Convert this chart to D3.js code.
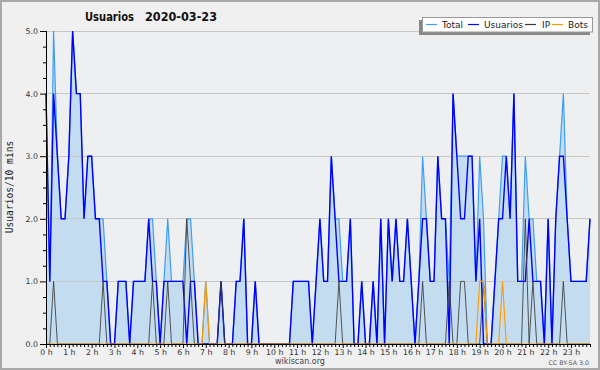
<!DOCTYPE html>
<html><head><meta charset="utf-8">
<script src="https://cdn.jsdelivr.net/npm/d3@7"></script>
<style>body{margin:0;background:#f0f0f0}svg{display:block}</style>
</head><body><svg id="c" width="600" height="370"></svg>
<script>
// 10-minute slots over the day (144)
const hourLabels = d3.range(24).map(h => h + " h");
const yTicks = [0, 1, 2, 3, 4, 5];
const total = [4,1,5,3,2,2,3,5,4,4,2,3,3,2,2,2,1,0,0,1,1,1,0,1,1,1,1,2,2,1,0,1,2,1,1,1,1,2,2,1,
  0,0,1,0,0,0,1,0,0,0,1,1,2,0,0,1,0,0,0,0,0,0,0,0,0,1,1,1,1,1,0,1,2,1,1,3,2,2,1,1,
  2,0,0,1,0,0,1,0,2,0,2,1,2,1,1,2,1,0,1,3,2,1,1,3,2,2,1,4,3,3,3,3,3,1,3,2,0,0,1,2,
  3,3,2,4,1,1,3,2,2,1,1,0,2,0,2,3,4,2,1,1,1,1,1,2];
const usuarios = [4,1,4,3,2,2,3,5,4,4,2,3,3,2,2,1,1,0,0,1,1,1,0,1,1,1,1,2,1,1,0,1,1,1,1,1,1,0,1,1,
  0,0,0,0,0,0,1,0,0,0,1,1,2,0,0,1,0,0,0,0,0,0,0,0,0,1,1,1,1,1,0,1,2,1,1,3,2,1,1,1,
  2,0,0,1,0,0,1,0,2,0,2,1,2,1,1,2,1,0,1,2,2,1,1,3,2,2,0,4,3,2,2,3,3,1,2,0,0,0,1,2,
  2,3,2,4,1,1,1,2,1,1,1,0,2,0,2,3,3,2,1,1,1,1,1,2];
const ip = [0,0,1,0,0,0,0,0,0,0,0,0,0,0,0,1,0,0,0,0,0,0,0,0,0,0,0,0,1,0,0,0,1,0,0,0,0,2,1,0,
  0,0,0,0,0,0,1,0,0,0,0,0,0,0,0,0,0,0,0,0,0,0,0,0,0,0,0,0,0,0,0,0,0,0,0,0,0,1,0,0,
  0,0,0,0,0,0,0,0,0,0,0,0,0,0,0,0,0,0,0,1,0,0,0,0,0,0,1,0,0,1,1,0,0,0,0,1,0,0,0,0,
  0,0,0,0,0,0,2,0,1,0,0,0,0,0,0,0,1,0,0,0,0,0,0,0];
const bots = [0,0,0,0,0,0,0,0,0,0,0,0,0,0,0,0,0,0,0,0,0,0,0,0,0,0,0,0,0,0,0,0,0,0,0,0,0,0,0,0,
  0,0,1,0,0,0,0,0,0,0,0,0,0,0,0,0,0,0,0,0,0,0,0,0,0,0,0,0,0,0,0,0,0,0,0,0,0,0,0,0,
  0,0,0,0,0,0,0,0,0,0,0,0,0,0,0,0,0,0,0,0,0,0,0,0,0,0,0,0,0,0,0,0,0,0,1,1,0,0,0,0,
  1,0,0,0,0,0,0,0,0,0,0,0,0,0,0,0,0,0,0,0,0,0,0,0];
const seriesNames = ["Total", "Usuarios", "IP", "Bots"];

const svg = d3.select("#c");
const L = 46, R = 590, T = 31, B = 344;
const x = d3.scaleLinear().domain([0, 143]).range([L, R]);
const y = d3.scaleLinear().domain([0, 5]).range([B, T]);
const F = "DejaVu Sans, sans-serif";

svg.append("rect").attr("x",1).attr("y",1).attr("width",598).attr("height",368)
  .attr("fill","#f0f0f0").attr("stroke","#a8a8a8").attr("stroke-width",2);
svg.append("rect").attr("x",L).attr("y",T).attr("width",R-L).attr("height",B-T).attr("fill","#eeeff1");

const idx = d3.range(total.length);
svg.append("path").datum(idx)
  .attr("d", d3.area().x(i => x(i)).y0(B).y1(i => y(total[i])))
  .attr("fill", "#c4dcf0");

// grid
svg.append("g").selectAll("line").data(yTicks.slice(1)).join("line")
  .attr("x1", L).attr("x2", R).attr("y1", d => y(d)).attr("y2", d => y(d))
  .attr("stroke", "#c8c8c8").attr("stroke-width", 1).attr("shape-rendering","crispEdges");

const line = arr => d3.line().x(i => x(i)).y(i => y(arr[i]));
svg.append("path").datum(idx).attr("d", line(total)).attr("fill","none").attr("stroke","#3e9ef2").attr("stroke-width",1.2);
svg.append("path").datum(idx).attr("d", line(usuarios)).attr("fill","none").attr("stroke","#0000ff").attr("stroke-width",1.4);
svg.append("path").datum(idx).attr("d", line(ip)).attr("fill","none").attr("stroke","#3a3a3a").attr("stroke-opacity",0.85).attr("stroke-width",1);
svg.append("path").datum(idx).attr("d", line(bots)).attr("fill","none").attr("stroke","#ff9900").attr("stroke-width",1.1);

// y axis
const yAxis = d3.axisLeft(y).tickValues(yTicks).tickFormat(d3.format(".1f")).tickSize(6).tickPadding(2);
const gy = svg.append("g").attr("transform", `translate(${L},0)`).call(yAxis);
gy.select(".domain").remove();
gy.selectAll("text").attr("font-family", F).attr("font-size", 7.8).attr("fill", "#333");
gy.selectAll("line").attr("stroke","#000");
const yMinor = d3.axisLeft(y).tickValues(d3.range(0, 5.01, 0.25).filter(v => v % 1 !== 0)).tickSize(3).tickFormat("");
const gym = svg.append("g").attr("transform", `translate(${L},0)`).call(yMinor);
gym.select(".domain").remove();
gym.selectAll("line").attr("stroke","#000");
svg.append("line").attr("x1",L+0.5).attr("x2",L+0.5).attr("y1",T).attr("y2",B).attr("stroke","#000");

// x axis
const xAxis = d3.axisBottom(x).tickValues(d3.range(0, 144, 6)).tickFormat((d, i) => hourLabels[i]).tickSize(4).tickPadding(1);
const gx = svg.append("g").attr("transform", `translate(0,${B})`).call(xAxis);
gx.select(".domain").remove();
gx.selectAll("text").attr("font-family", F).attr("font-size", 7.8).attr("fill", "#333");
gx.selectAll("line").attr("stroke","#000");
const xMinor = d3.axisBottom(x).tickValues(d3.range(0, 144).filter(v => v % 6 !== 0)).tickSize(3).tickFormat("");
const gxm = svg.append("g").attr("transform", `translate(0,${B})`).call(xMinor);
gxm.select(".domain").remove();
gxm.selectAll("line").attr("stroke","#000");
svg.append("line").attr("x1",L).attr("x2",R).attr("y1",B+0.5).attr("y2",B+0.5).attr("stroke","#000");

// titles
svg.append("text").attr("x", 85).attr("y", 21).attr("font-family", F).attr("font-weight","bold")
  .attr("font-size", 12).attr("fill","#111").attr("textLength", 49).attr("lengthAdjust","spacingAndGlyphs").text("Usuarios");
svg.append("text").attr("x", 145).attr("y", 21).attr("font-family", F).attr("font-weight","bold")
  .attr("font-size", 12).attr("fill","#111").attr("textLength", 72).attr("lengthAdjust","spacingAndGlyphs").text("2020-03-23");
svg.append("text").attr("transform","translate(13,187) rotate(-90)").attr("text-anchor","middle")
  .attr("font-family","DejaVu Sans Mono, monospace").attr("font-size",9.6).attr("fill","#222").text("Usuarios/10 mins");
svg.append("text").attr("x",300).attr("y",364).attr("text-anchor","middle").attr("font-family",F)
  .attr("font-size",8).attr("fill","#444").text("wikiscan.org");
svg.append("text").attr("x",589).attr("y",365).attr("text-anchor","end").attr("font-family",F)
  .attr("font-size",6.3).attr("fill","#555").text("CC BY-SA 3.0");

// legend
const lg = svg.append("g");
lg.append("rect").attr("x",419).attr("y",20).attr("width",171).attr("height",15).attr("fill","#888");
lg.append("rect").attr("x",422.5).attr("y",17.5).attr("width",170).attr("height",14.5).attr("fill","#fff").attr("stroke","#999");
const lcolors = ["#3e9ef2","#0000ff","#3a3a3a","#ff9900"];
const lx = [426, 468, 525, 552];
const tx = [442, 484, 542, 568];
seriesNames.forEach((n, i) => {
  lg.append("line").attr("x1", lx[i]).attr("x2", lx[i] + 11).attr("y1", 24.5).attr("y2", 24.5)
    .attr("stroke", lcolors[i]).attr("stroke-width", 1.2);
  lg.append("text").attr("x", tx[i]).attr("y", 28).attr("font-family", F).attr("font-size", 9)
    .attr("fill", "#222").text(n);
});
</script></body></html>
